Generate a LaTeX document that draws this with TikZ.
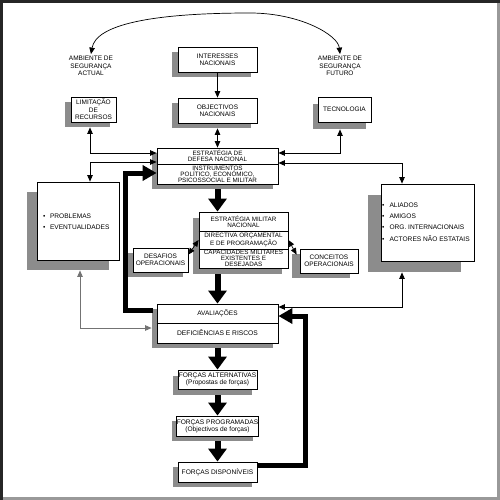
\documentclass[tikz,border=0pt]{standalone}
\usepackage{fontspec}
\setmainfont{Liberation Sans}
\usetikzlibrary{arrows.meta,shadows,calc}
\definecolor{shade}{gray}{0.55}
\definecolor{frameDark}{gray}{0.15}
\definecolor{frameLight}{gray}{0.6}
\definecolor{lineGray}{gray}{0.45}
\begin{document}
\begin{tikzpicture}[x=1pt,y=-1pt,
  txt/.style={font=\fontsize{6.5}{7.4}\selectfont, align=center, inner sep=0pt},
  tight/.style={font=\fontsize{6.3}{5.9}\selectfont, align=center, inner sep=0pt},
  box/.style={draw, line width=0.8pt, fill=white, inner sep=0pt, txt},
  shad/.style 2 args={general shadow={fill=shade, shadow xshift=-#1pt, shadow yshift=-#2pt}},
  thinarr/.style={line width=0.7pt, -{Triangle[width=5.5pt,length=6.5pt]}},
  botharr/.style={line width=0.7pt, {Triangle[width=5.5pt,length=6.5pt]}-{Triangle[width=5.5pt,length=6.5pt]}},
  fat/.style={line width=6pt, -{Triangle[width=18pt,length=13pt]}},
  fb/.style={line width=5pt, line join=miter, -{Triangle[width=15pt,length=14pt]}},
  divider/.style={line width=0.8pt}
]
\useasboundingbox (0,0) rectangle (500,500);
% frame
\fill[frameLight] (497,0) rectangle (500,500);
\fill[frameLight] (0,497) rectangle (500,500);
\fill[frameDark] (0,0) rectangle (500,3);
\fill[frameDark] (0,0) rectangle (3,500);

% labels
\node[txt, inner sep=2pt] (actual) at (91,66) {AMBIENTE DE\\SEGURANÇA\\ACTUAL};
\node[txt, inner sep=2pt] (futuro) at (340,66) {AMBIENTE DE\\SEGURANÇA\\FUTURO};

% boxes
\node[box, shad={6}{5}, minimum width=79pt, minimum height=25pt] (interesses) at (217.5,59.5) {INTERESSES\\NACIONAIS};
\node[box, shad={6}{5}, minimum width=79pt, minimum height=25pt] (objectivos) at (217.5,110.5) {OBJECTIVOS\\NACIONAIS};
\node[box, shad={6}{5}, minimum width=45pt, minimum height=25pt] (limitacao) at (93.5,109.5) {LIMITAÇÃO\\DE\\RECURSOS};
\node[box, shad={5}{7}, minimum width=53pt, minimum height=25pt] (tecnologia) at (344.5,109.5) {TECNOLOGIA};

\node[box, shad={5}{5}, minimum width=121pt, minimum height=36pt] (estr) at (217.5,166) {};
\node[tight] (estr1) at (217.5,156) {ESTRATÉGIA DE\\DEFESA NACIONAL};
\node[tight] (estr2) at (217.5,174) {INSTRUMENTOS\\POLÍTICO, ECONÓMICO,\\PSICOSSOCIAL E MILITAR};
\draw[divider] (estr.west |- 0,164) -- (estr.east |- 0,164);

\node[box, shad={6}{6}, minimum width=89pt, minimum height=56pt] (mil) at (243.5,240) {};
\node[tight] (mil1) at (243.5,221.5) {ESTRATÉGIA MILITAR\\NACIONAL};
\node[tight] (mil2) at (243.5,240) {DIRECTIVA ORÇAMENTAL\\E DE PROGRAMAÇÃO};
\node[tight] (mil3) at (243.5,258.5) {CAPACIDADES MILITARES\\EXISTENTES E\\DESEJADAS};
\draw[divider] (mil.west |- 0,231) -- (mil.east |- 0,231);
\draw[divider] (mil.west |- 0,249) -- (mil.east |- 0,249);

\node[box, shad={5}{5}, minimum width=55pt, minimum height=24pt] (desafios) at (160.5,260) {DESAFIOS\\OPERACIONAIS};
\node[box, shad={8}{5}, minimum width=58pt, minimum height=24pt] (conceitos) at (329,261) {CONCEITOS\\OPERACIONAIS};

\node[box, shad={10}{10}, minimum width=82pt, minimum height=78pt] (problemas) at (78,221) {};
\node[txt, font=\fontsize{6.6}{11}\selectfont, align=left, anchor=west] (problist) at (43,221.5)
  {\textbullet\hspace{4.5pt}PROBLEMAS\\\textbullet\hspace{4.5pt}EVENTUALIDADES};

\node[box, shad={13}{11}, minimum width=93pt, minimum height=77pt] (aliados) at (427.5,222.5) {};
\node[txt, font=\fontsize{6.6}{11.3}\selectfont, align=left, anchor=west] (alilist) at (382,222)
  {\textbullet\hspace{5pt}ALIADOS\\\textbullet\hspace{5pt}AMIGOS\\\textbullet\hspace{5pt}ORG. INTERNACIONAIS\\\textbullet\hspace{5pt}ACTORES NÃO ESTATAIS};

\node[box, shad={5}{5}, minimum width=121pt, minimum height=39pt] (aval) at (217.5,323.5) {};
\node[txt] (aval1) at (217.5,313.5) {AVALIAÇÕES};
\node[txt, font=\fontsize{6.7}{7.4}\selectfont] (aval2) at (217.5,333) {DEFICIÊNCIAS E RISCOS};
\draw[divider] (aval.west |- 0,323) -- (aval.east |- 0,323);

\node[box, shad={5}{6}, minimum width=79pt, minimum height=19pt, font=\fontsize{6.6}{7}\selectfont] (alt) at (217.5,379.5) {FORÇAS ALTERNATIVAS\\(Propostas de forças)};
\node[box, shad={5}{5}, minimum width=79pt, minimum height=20pt, font=\fontsize{6.6}{7}\selectfont] (prog) at (217.5,426) {FORÇAS PROGRAMADAS\\(Objectivos de forças)};
\node[box, shad={5}{5}, minimum width=79pt, minimum height=20pt, font=\fontsize{6.6}{7}\selectfont] (disp) at (217.5,472) {FORÇAS DISPONÍVEIS};

% thin connectors
\draw[botharr] (actual.north) .. controls (96,25) and (150,13) .. (250,13)
   .. controls (300,13) and (338,35) .. (futuro.north);
\draw[thinarr] (interesses) -- (objectivos);
\draw[botharr] ([yshift=-5pt]objectivos.south) -- (estr.north);
\draw[botharr] ([xshift=-3.5pt,yshift=-5pt]limitacao.south) |- ([yshift=13pt]estr.west);
\draw[botharr] ([yshift=4pt]estr.west) -| ([xshift=12pt]problemas.north);
\draw[botharr] ([xshift=-4.5pt,yshift=-7pt]tecnologia.south) |- ([yshift=13pt]estr.east);
\draw[botharr] ([yshift=3pt]estr.east) -| ([xshift=-25.5pt]aliados.north);
\draw[botharr] ([xshift=-25.5pt,yshift=-11pt]aliados.south) |- ([yshift=16.5pt]aval.east);
\draw[botharr, draw=lineGray] ([xshift=2pt,yshift=-10pt]problemas.south) |- ([xshift=-5pt,yshift=-4.5pt]aval.west);
\draw[botharr] ([yshift=-7pt]desafios.north east) -- (mil.west |- mil2.center);
\draw[botharr] ([xshift=-3pt,yshift=-6pt]conceitos.north west) -- (mil.east |- mil2.center);

% thick connectors
\draw[fat] ($(estr.south)+(0,5)$) -- (estr.south |- mil.north);
\draw[fat] ($(aval.north |- mil.south)+(0,6)$) -- (aval.north);
\draw[fat] ($(aval.south)+(0,5)$) -- (alt.north);
\draw[fat] ($(alt.south)+(0,6)$) -- (prog.north);
\draw[fat] ($(prog.south)+(0,5)$) -- (disp.north);
\draw[fb] ([yshift=7pt]disp.east) -| ([xshift=27pt,yshift=7.5pt]aval.east) -- ([yshift=7.5pt]aval.east);
\draw[fb] ([xshift=-4pt,yshift=13.5pt]aval.west) -| ([xshift=-31pt,yshift=-7pt]estr.west) -- ([yshift=-7pt]estr.west);
\end{tikzpicture}
\end{document}
